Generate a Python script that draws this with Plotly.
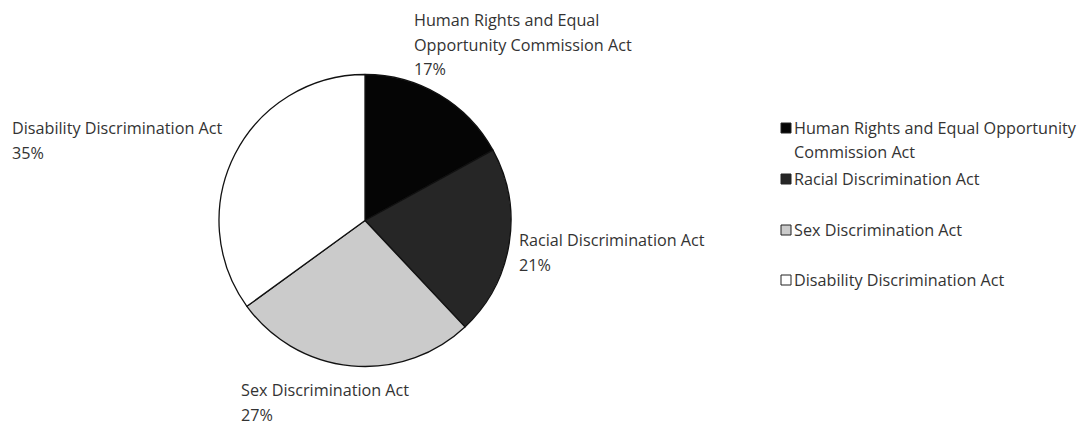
import plotly.graph_objects as go

# Share of complaints by Act
acts = [
    "Human Rights and Equal Opportunity Commission Act",
    "Racial Discrimination Act",
    "Sex Discrimination Act",
    "Disability Discrimination Act",
]
shares = [17, 21, 27, 35]
slice_colors = ["#050505", "#262626", "#cbcbcb", "#ffffff"]

# wrapped forms of the names used for the call-out labels and legend
callout_lines = [
    ["Human Rights and Equal", "Opportunity Commission Act"],
    ["Racial Discrimination Act"],
    ["Sex Discrimination Act"],
    ["Disability Discrimination Act"],
]
legend_lines = [
    ["Human Rights and Equal Opportunity", "Commission Act"],
    ["Racial Discrimination Act"],
    ["Sex Discrimination Act"],
    ["Disability Discrimination Act"],
]

W, H = 1080, 425
FONT = "Open Sans"
TEXT_COLOR = "#333333"
FS = 16.2


def px(x, y):
    return x / W, 1 - y / H


fig = go.Figure(
    go.Pie(
        labels=acts,
        values=shares,
        sort=False,
        direction="clockwise",
        rotation=0,
        marker=dict(colors=slice_colors, line=dict(color="#111111", width=1.3)),
        textinfo="none",
        hoverinfo="label+percent",
        showlegend=False,
        domain=dict(x=[(365 - 146) / W, (365 + 146) / W],
                    y=[(H - 367) / H, (H - 74) / H]),
    )
)

annotations = []
shapes = []

# call-out labels: top-left anchor and line pitch (px) for each slice
callout_pos = [(412, 20), (517, 240), (239, 390), (10, 128)]
LINE_PITCH = 24.5
for lines, value, (x0, y0) in zip(callout_lines, shares, callout_pos):
    for i, txt in enumerate(lines + [f"{value}%"]):
        ax, ay = px(x0, y0 + i * LINE_PITCH)
        annotations.append(dict(
            x=ax, y=ay, xref="paper", yref="paper", text=txt, showarrow=False,
            xanchor="left", yanchor="middle",
            font=dict(family=FONT, size=FS, color=TEXT_COLOR),
        ))

# legend: swatch + text, one row per Act
legend_rows = [128, 179, 230, 280]
LEG_PITCH = 24
SW = 10
for lines, color, y0 in zip(legend_lines, slice_colors, legend_rows):
    sx0, sy0 = px(781, y0 - SW / 2)
    sx1, sy1 = px(781 + SW, y0 + SW / 2)
    shapes.append(dict(type="rect", xref="paper", yref="paper",
                       x0=sx0, x1=sx1, y0=sy1, y1=sy0,
                       fillcolor=color, line=dict(color="#222222", width=1)))
    for i, txt in enumerate(lines):
        ax, ay = px(792, y0 + i * LEG_PITCH)
        annotations.append(dict(
            x=ax, y=ay, xref="paper", yref="paper", text=txt, showarrow=False,
            xanchor="left", yanchor="middle",
            font=dict(family=FONT, size=FS, color=TEXT_COLOR),
        ))

fig.update_layout(
    width=W, height=H,
    margin=dict(l=0, r=0, t=0, b=0),
    paper_bgcolor="white",
    plot_bgcolor="white",
    annotations=annotations,
    shapes=shapes,
    showlegend=False,
)

fig.write_html("out.html")
